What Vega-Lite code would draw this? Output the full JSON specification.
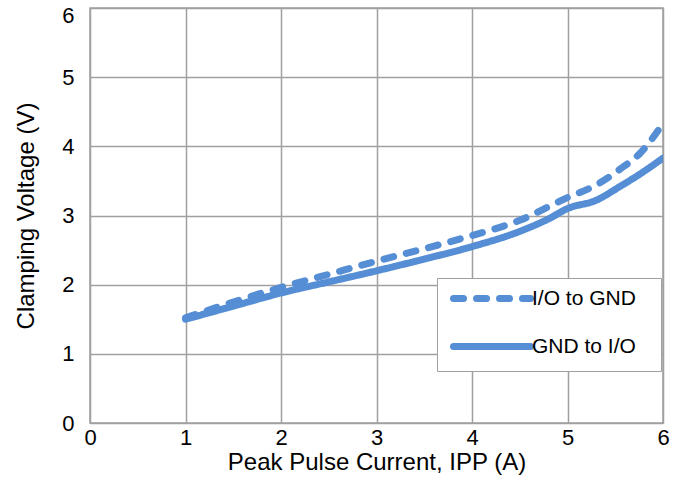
{
  "$schema": "https://vega.github.io/schema/vega-lite/v6.json",
  "autosize": {"type": "none"},
  "width": 573,
  "height": 415,
  "padding": {"left": 90, "top": 8, "right": 20, "bottom": 57},
  "background": "white",
  "config": {
    "font": "Liberation Sans",
    "view": {"stroke": "#a0a0a0", "strokeWidth": 1.5},
    "axis": {
      "labelFont": "Liberation Sans",
      "titleFont": "Liberation Sans",
      "labelColor": "black",
      "titleColor": "black",
      "titleFontWeight": "normal",
      "gridColor": "#a0a0a0",
      "gridWidth": 1.5,
      "gridOpacity": 1,
      "domain": false,
      "ticks": false
    }
  },
  "data": {
    "values": [
      {"I": 1.0, "V": 1.52, "series": "I/O to GND"},
      {"I": 1.5, "V": 1.75, "series": "I/O to GND"},
      {"I": 2.0, "V": 1.96, "series": "I/O to GND"},
      {"I": 2.5, "V": 2.15, "series": "I/O to GND"},
      {"I": 3.0, "V": 2.34, "series": "I/O to GND"},
      {"I": 3.5, "V": 2.52, "series": "I/O to GND"},
      {"I": 4.0, "V": 2.71, "series": "I/O to GND"},
      {"I": 4.5, "V": 2.93, "series": "I/O to GND"},
      {"I": 5.0, "V": 3.26, "series": "I/O to GND"},
      {"I": 5.3, "V": 3.44, "series": "I/O to GND"},
      {"I": 5.55, "V": 3.67, "series": "I/O to GND"},
      {"I": 5.76, "V": 3.9, "series": "I/O to GND"},
      {"I": 6.0, "V": 4.33, "series": "I/O to GND"},
      {"I": 1.0, "V": 1.5, "series": "GND to I/O"},
      {"I": 1.5, "V": 1.69, "series": "GND to I/O"},
      {"I": 2.0, "V": 1.88, "series": "GND to I/O"},
      {"I": 2.5, "V": 2.04, "series": "GND to I/O"},
      {"I": 3.0, "V": 2.2, "series": "GND to I/O"},
      {"I": 3.5, "V": 2.37, "series": "GND to I/O"},
      {"I": 4.0, "V": 2.55, "series": "GND to I/O"},
      {"I": 4.5, "V": 2.77, "series": "GND to I/O"},
      {"I": 4.8, "V": 2.95, "series": "GND to I/O"},
      {"I": 5.0, "V": 3.1, "series": "GND to I/O"},
      {"I": 5.3, "V": 3.22, "series": "GND to I/O"},
      {"I": 5.55, "V": 3.42, "series": "GND to I/O"},
      {"I": 5.76, "V": 3.6, "series": "GND to I/O"},
      {"I": 6.0, "V": 3.83, "series": "GND to I/O"}
    ]
  },
  "mark": {"type": "line", "color": "#558ed5", "strokeWidth": 7, "strokeCap": "round", "interpolate": "monotone", "clip": true},
  "encoding": {
    "x": {
      "field": "I", "type": "quantitative",
      "scale": {"domain": [0, 6], "nice": false},
      "axis": {"values": [0, 1, 2, 3, 4, 5, 6], "title": "Peak Pulse Current, IPP (A)", "labelFontSize": 22, "titleFontSize": 24, "labelPadding": 4, "titlePadding": 2, "labelFlush": false}
    },
    "y": {
      "field": "V", "type": "quantitative",
      "scale": {"domain": [0, 6], "nice": false},
      "axis": {
        "values": [0, 1, 2, 3, 4, 5, 6], "title": "Clamping Voltage (V)", "labelFontSize": 22, "titleFontSize": 24, "labelPadding": 16, "titlePadding": 23,
        "labelOffset": {"condition": {"test": "datum.value === 6", "value": 7}, "value": 0}
      }
    },
    "strokeDash": {
      "field": "series", "type": "nominal",
      "scale": {"domain": ["I/O to GND", "GND to I/O"], "range": [[10, 13], [1, 0]]},
      "legend": {
        "title": null,
        "orient": "none",
        "legendX": 347,
        "legendY": 270,
        "padding": 10,
        "strokeColor": "#a0a0a0",
        "fillColor": "white",
        "symbolType": "M-0.57,0H10.43",
        "symbolSize": 196,
        "symbolStrokeWidth": 7,
        "symbolStrokeColor": "#558ed5",
        "symbolFillColor": "transparent",
        "labelFontSize": 21,
        "labelFont": "Liberation Sans",
        "labelColor": "black",
        "labelOffset": 64,
        "labelLimit": 300,
        "labelExpr": "datum.label + '\u2800'",
        "rowPadding": 19,
        "encode": {"symbols": {"update": {"strokeCap": {"value": "round"}}}}
      }
    }
  }
}
